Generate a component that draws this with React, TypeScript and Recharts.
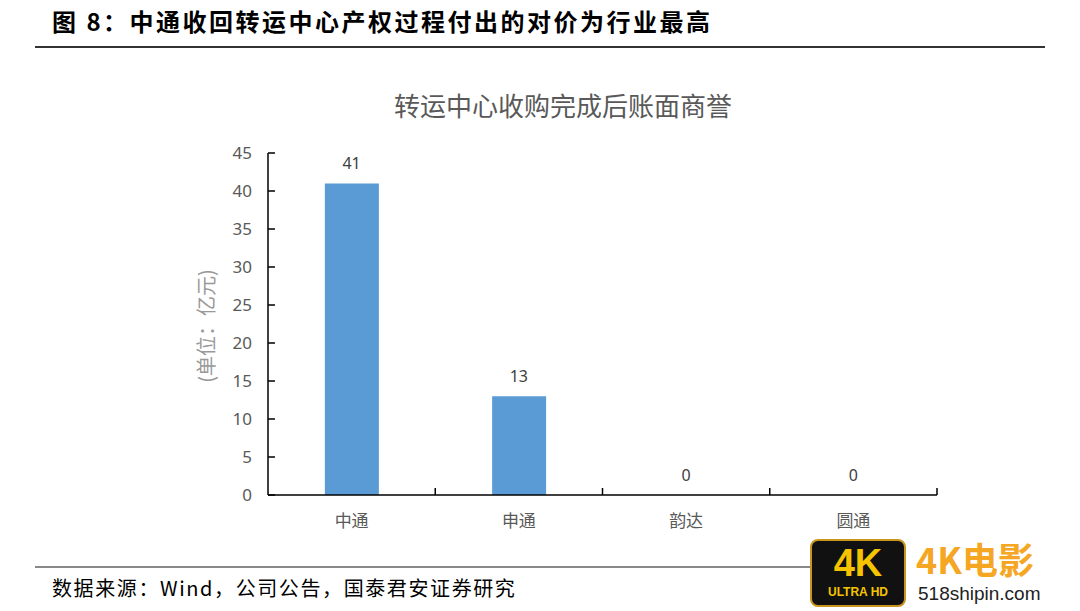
import React from 'react';
import { ComposedChart, Bar, Line, XAxis, YAxis, LabelList } from 'recharts';

const categories = ['中通', '申通', '韵达', '圆通'];
const goodwill = [41, 13, 0, 0];
const yTicks = [0, 5, 10, 15, 20, 25, 30, 35, 40, 45];

const data = categories.map((name, i) => ({ name, value: goodwill[i] }));

const PLOT_LEFT = 268;
const PLOT_RIGHT = 937;
const PLOT_TOP = 153;
const PLOT_BOTTOM = 495;
const BAND = (PLOT_RIGHT - PLOT_LEFT) / categories.length;

const XTick = (props: any) => {
  const { x, y, payload } = props;
  return (
    <g>
      <line x1={x + BAND / 2} x2={x + BAND / 2} y1={y} y2={y - 7} stroke="#000" strokeWidth={1.5} />
      <text x={x} y={y + 32} textAnchor="middle" fill="#595959" fontSize={17} fontFamily="'Noto Sans CJK SC', sans-serif">
        {payload.value}
      </text>
    </g>
  );
};

const YTick = (props: any) => {
  const { x, y, payload } = props;
  return (
    <g>
      <line x1={x} x2={x + 7} y1={y} y2={y} stroke="#000" strokeWidth={1.5} />
      <text x={x - 16} y={y + 6} textAnchor="end" fill="#595959" fontSize={17} fontFamily="'Noto Sans', sans-serif">
        {payload.value}
      </text>
    </g>
  );
};

export default function App() {
  return (
    <div style={{ position: 'absolute', left: 0, top: 0, width: 1080, height: 611, background: '#fff', overflow: 'hidden', fontFamily: "'Noto Sans CJK SC', sans-serif" }}>
      <div style={{ position: 'absolute', left: 52, top: 5, fontSize: 24, lineHeight: '32px', fontWeight: 700, color: '#000', letterSpacing: 2.5, whiteSpace: 'nowrap' }}>
        图 8：中通收回转运中心产权过程付出的对价为行业最高
      </div>
      <div style={{ position: 'absolute', left: 35, top: 46, width: 1010, height: 2, background: '#333' }} />

      <div style={{ position: 'absolute', left: 0, width: 1126, top: 87, textAlign: 'center', fontSize: 26, lineHeight: '36px', color: '#595959', whiteSpace: 'nowrap' }}>
        转运中心收购完成后账面商誉
      </div>

      <div style={{ position: 'absolute', left: 205, top: 326, transform: 'translate(-50%, -50%) rotate(-90deg)', fontSize: 20, color: '#999', whiteSpace: 'nowrap' }}>
        (单位：亿元)
      </div>

      <div style={{ position: 'absolute', left: 0, top: 0 }}>
        <ComposedChart
          width={1080}
          height={611}
          data={data}
          margin={{ top: PLOT_TOP, right: 1080 - PLOT_RIGHT, left: PLOT_LEFT - 60, bottom: 611 - PLOT_BOTTOM - 30 }}
          barCategoryGap="34%"
        >
          <XAxis
            dataKey="name"
            height={30}
            tickSize={0}
            tickMargin={0}
            tickLine={false}
            axisLine={{ stroke: '#000', strokeWidth: 1.5 }}
            tick={<XTick />}
            interval={0}
          />
          <YAxis
            width={60}
            domain={[0, 45]}
            ticks={yTicks}
            tickSize={0}
            tickMargin={0}
            tickLine={false}
            axisLine={{ stroke: '#000', strokeWidth: 1.5 }}
            tick={<YTick />}
            interval={0}
          />
          <Bar dataKey="value" fill="#5B9BD5" isAnimationActive={false} />
          <Line dataKey="value" stroke="none" dot={false} activeDot={false} isAnimationActive={false} legendType="none">
            <LabelList dataKey="value" position="top" offset={14} fill="#404040" fontSize={16} fontFamily="'Noto Sans', sans-serif" />
          </Line>
        </ComposedChart>
      </div>

      <div style={{ position: 'absolute', left: 35, top: 566, width: 780, height: 1.5, background: '#888' }} />
      <div style={{ position: 'absolute', left: 52, top: 575, fontSize: 20, lineHeight: '26px', letterSpacing: 1.6, color: '#000', whiteSpace: 'nowrap' }}>
        数据来源：Wind，公司公告，国泰君安证券研究
      </div>

      <div style={{ position: 'absolute', left: 810, top: 539, width: 96, height: 68, borderRadius: 8, background: '#111', border: '2px solid #c8961e', boxSizing: 'border-box', textAlign: 'center', color: '#f5c400', fontWeight: 700 }}>
        <div style={{ fontSize: 38, lineHeight: '44px', fontFamily: "'Liberation Sans', sans-serif" }}>4K</div>
        <div style={{ fontSize: 12, lineHeight: '14px', fontFamily: "'Liberation Sans', sans-serif" }}>ULTRA HD</div>
      </div>
      <div style={{ position: 'absolute', left: 916, top: 540, fontSize: 36, lineHeight: '36px', fontWeight: 700, color: '#f5a623', whiteSpace: 'nowrap' }}>
        4K电影
      </div>
      <div style={{ position: 'absolute', left: 918, top: 584, fontSize: 19, lineHeight: '20px', color: '#222', whiteSpace: 'nowrap', fontFamily: "'Liberation Sans Narrow', 'Liberation Sans', sans-serif" }}>
        518shipin.com
      </div>
    </div>
  );
}
